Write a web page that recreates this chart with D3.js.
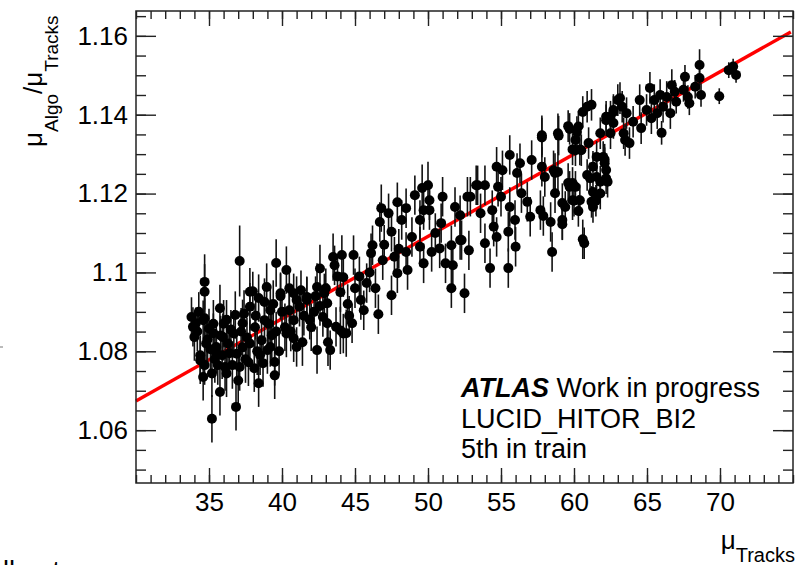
<!DOCTYPE html>
<html>
<head>
<meta charset="utf-8">
<script src="https://cdn.jsdelivr.net/npm/d3@7"></script>
<style>
  html, body { margin: 0; padding: 0; background: #fff; }
  svg { display: block; }
  text { font-family: "Liberation Sans", Arial, Helvetica, sans-serif; fill: #000; }
</style>
</head>
<body>
<svg id="chart" width="799" height="565"></svg>
<script>
// ---- data: [muTracks, ratio, error] ----
const points = [
  [33.8,1.0887,.005],[33.9,1.0862,.005],[34.0,1.0836,.006],[34.1,1.0871,.004],[34.2,1.0850,.005],
  [34.3,1.0900,.005],[34.4,1.0790,.005],[34.4,1.0777,.006],[34.6,1.0879,.005],[34.6,1.0735,.006],
  [34.7,1.0976,.007],[34.7,1.0951,.007],[34.7,1.0765,.005],[34.7,1.0884,.005],[34.8,1.0820,.006],
  [34.9,1.0830,.006],[35.0,1.0858,.005],[35.1,1.0805,.006],[35.2,1.0629,.006],[35.2,1.0744,.006],
  [35.3,1.0846,.005],[35.3,1.0870,.006],[35.4,1.0780,.006],[35.5,1.0795,.005],[35.5,1.0811,.006],
  [35.6,1.0765,.005],[35.75,1.0909,.006],[35.75,1.0697,.006],[35.8,1.0840,.005],[35.9,1.0790,.006],
  [35.95,1.0836,.006],[36.0,1.0870,.006],[36.1,1.0760,.006],[36.2,1.0744,.006],[36.2,1.0880,.005],
  [36.3,1.0820,.005],[36.4,1.0795,.006],[36.5,1.0855,.005],[36.6,1.0765,.006],[36.7,1.0845,.006],
  [36.8,1.0892,.006],[36.85,1.0659,.006],[36.9,1.0794,.006],[37.0,1.0726,.006],[37.1,1.1029,.009],
  [37.1,1.0760,.006],[37.2,1.0850,.006],[37.3,1.0871,.006],[37.3,1.0810,.005],[37.4,1.0895,.006],
  [37.5,1.0780,.006],[37.6,1.0835,.005],[37.7,1.0772,.006],[37.8,1.0913,.006],[37.8,1.0951,.006],
  [37.8,1.0820,.006],[38.0,1.0952,.005],[38.1,1.0757,.006],[38.15,1.0861,.006],[38.2,1.0890,.006],
  [38.3,1.0800,.006],[38.4,1.0935,.006],[38.4,1.0719,.006],[38.5,1.0790,.005],[38.6,1.0828,.006],
  [38.7,1.0770,.006],[38.8,1.0879,.006],[38.8,1.0925,.006],[38.95,1.0963,.006],[39.0,1.0803,.006],
  [39.1,1.0870,.006],[39.2,1.0904,.006],[39.2,1.0811,.005],[39.3,1.0841,.006],[39.4,1.0920,.006],
  [39.5,1.0773,.006],[39.5,1.0739,.006],[39.6,1.1024,.006],[39.6,1.0850,.005],[39.8,1.0800,.006],
  [39.9,1.0947,.005],[39.9,1.0940,.006],[40.0,1.0900,.005],[40.2,1.0861,.006],[40.3,1.1006,.006],
  [40.3,1.0845,.006],[40.5,1.0960,.005],[40.5,1.0904,.005],[40.6,1.0850,.005],[40.8,1.0833,.006],
  [40.8,1.0947,.005],[40.8,1.0879,.005],[41.0,1.0930,.006],[41.0,1.0811,.005],[41.2,1.0913,.005],
  [41.3,1.0955,.005],[41.4,1.0823,.006],[41.5,1.0890,.005],[41.7,1.0930,.006],[41.7,1.0938,.005],
  [41.9,1.0880,.005],[42.0,1.0861,.006],[42.2,1.0900,.005],[42.3,1.0940,.005],[42.4,1.0963,.006],
  [42.4,1.0803,.006],[42.6,1.1010,.006],[42.6,1.0915,.005],[42.8,1.0887,.005],[42.9,1.0947,.005],
  [43.0,1.0960,.005],[43.1,1.0922,.005],[43.1,1.0871,.005],[43.15,1.0823,.006],[43.3,1.0803,.005],
  [43.5,1.1039,.006],[43.6,1.1018,.005],[43.7,1.0862,.005],[43.8,1.0990,.005],[44.0,1.0853,.006],
  [44.0,1.0950,.005],[44.1,1.1044,.005],[44.2,1.0988,.005],[44.2,1.0845,.005],[44.4,1.0846,.006],
  [44.5,1.0920,.005],[44.6,1.0890,.005],[44.8,1.0871,.005],[44.9,1.1044,.005],[45.0,1.0960,.005],
  [45.3,1.0990,.005],[45.4,1.0930,.005],[45.6,1.0904,.005],[45.8,1.0973,.005],[46.0,1.1000,.005],
  [46.1,1.1049,.005],[46.2,1.1069,.005],[46.4,1.0960,.005],[46.6,1.0894,.005],[46.7,1.1128,.005],
  [46.8,1.1163,.006],[46.9,1.1031,.005],[47.0,1.1070,.005],[47.3,1.1150,.005],[47.5,1.1103,.005],
  [47.5,1.0942,.005],[47.7,1.1040,.005],[47.9,1.0998,.005],[47.9,1.1178,.005],[48.0,1.1060,.005],
  [48.2,1.1133,.005],[48.5,1.1163,.005],[48.5,1.1052,.005],[48.6,1.1006,.005],[48.9,1.1090,.005],
  [49.1,1.1196,.005],[49.45,1.1133,.005],[49.45,1.1065,.005],[49.6,1.1214,.006],[49.7,1.1158,.005],
  [49.7,1.1023,.005],[50.0,1.1221,.006],[50.1,1.1183,.005],[50.1,1.1158,.005],[50.25,1.1052,.005],
  [50.5,1.1100,.005],[50.8,1.1061,.005],[50.9,1.1125,.005],[51.0,1.1192,.005],[51.2,1.1023,.005],
  [51.6,1.0960,.005],[51.6,1.1069,.005],[51.7,1.1018,.005],[51.85,1.1166,.005],[52.2,1.1145,.005],
  [52.2,1.1082,.005],[52.3,1.1082,.005],[52.5,1.0947,.005],[52.7,1.1192,.005],[52.8,1.1056,.005],
  [52.9,1.1192,.005],[53.3,1.1221,.005],[53.4,1.1221,.005],[53.6,1.1150,.005],[53.9,1.1221,.005],
  [53.9,1.1074,.005],[54.25,1.1011,.005],[54.4,1.1158,.005],[54.5,1.1116,.005],[54.7,1.1268,.005],
  [54.7,1.1090,.005],[54.8,1.1217,.005],[55.0,1.1192,.005],[55.1,1.1259,.005],[55.5,1.1103,.005],
  [55.5,1.1011,.005],[55.6,1.1298,.005],[55.6,1.1166,.005],[55.96,1.1133,.005],[56.0,1.1065,.005],
  [56.1,1.1252,.005],[56.3,1.1277,.005],[56.4,1.1201,.005],[56.8,1.1179,.005],[57.0,1.1141,.005],
  [57.1,1.1285,.005],[57.7,1.1158,.005],[57.8,1.1348,.005],[57.8,1.1268,.005],[57.8,1.1342,.005],
  [57.9,1.1143,.005],[58.0,1.1242,.005],[58.4,1.1128,.005],[58.5,1.1052,.005],[58.6,1.1259,.005],
  [58.7,1.1201,.005],[58.7,1.1252,.005],[58.9,1.1353,.005],[58.9,1.1255,.005],[58.95,1.1347,.005],
  [59.2,1.1176,.005],[59.2,1.1133,.005],[59.2,1.1122,.004],[59.4,1.1166,.004],[59.6,1.1371,.004],
  [59.6,1.1227,.005],[59.7,1.1364,.004],[59.7,1.1217,.004],[59.9,1.1183,.005],[59.9,1.1227,.004],
  [59.9,1.1312,.004],[60.0,1.1182,.004],[60.1,1.1336,.004],[60.1,1.1310,.004],[60.1,1.1217,.004],
  [60.2,1.1356,.004],[60.3,1.1370,.004],[60.3,1.1156,.004],[60.4,1.1183,.004],[60.4,1.1312,.004],
  [60.5,1.1310,.004],[60.6,1.1084,.005],[60.6,1.1407,.004],[60.7,1.1074,.004],[60.9,1.1420,.004],
  [60.9,1.1247,.004],[61.0,1.1328,.004],[61.1,1.1239,.004],[61.2,1.1425,.004],[61.2,1.1179,.004],
  [61.3,1.1268,.004],[61.3,1.1204,.004],[61.3,1.1166,.004],[61.5,1.1182,.004],[61.55,1.1293,.004],
  [61.55,1.1242,.004],[61.8,1.1353,.004],[61.8,1.1200,.004],[61.8,1.1230,.004],[62.0,1.1293,.004],
  [62.1,1.1286,.004],[62.1,1.1277,.004],[62.2,1.1395,.004],[62.2,1.1239,.004],[62.2,1.1386,.004],
  [62.2,1.1260,.004],[62.3,1.1230,.004],[62.5,1.1353,.004],[62.5,1.1395,.004],[62.7,1.1407,.004],
  [62.7,1.1412,.004],[62.7,1.1379,.004],[63.0,1.1437,.004],[63.15,1.1442,.004],[63.3,1.1420,.004],
  [63.4,1.1353,.004],[63.5,1.1336,.004],[63.6,1.1404,.004],[63.8,1.1328,.004],[64.05,1.1382,.004],
  [64.5,1.1437,.004],[64.6,1.1366,.004],[64.97,1.1412,.004],[65.2,1.1468,.004],[65.3,1.1391,.004],
  [65.5,1.1437,.004],[65.7,1.1404,.004],[65.9,1.1450,.004],[66.0,1.1354,.003],[66.1,1.1420,.004],
  [66.35,1.1445,.004],[66.6,1.1404,.004],[66.7,1.1475,.004],[66.9,1.1458,.003],[67.0,1.1433,.003],
  [67.5,1.1463,.003],[67.6,1.1496,.003],[67.8,1.1445,.003],[67.9,1.1429,.003],[68.3,1.1471,.003],
  [68.6,1.1526,.004],[68.6,1.1493,.003],[68.7,1.1450,.003],[69.95,1.1447,.002],[70.6,1.1513,.002],
  [70.9,1.1522,.002],[71.1,1.1501,.002]
];

// linear fit end points
const fitX = [30, 74.85];
const fitY = [1.0674, 1.1610];

// axis ticks
const xMajorTicks = [35, 40, 45, 50, 55, 60, 65, 70];
const yMajorTicks = [1.06, 1.08, 1.10, 1.12, 1.14, 1.16];
const yTickLabels = ["1.06", "1.08", "1.1", "1.12", "1.14", "1.16"];
const xDomain = [30, 75];
const yDomain = [1.0466, 1.1663];

const annotLines = ["LUCID_HITOR_BI2", "5th in train"];

// ---- layout ----
const L = 136, R = 793, T = 11, B = 483;
const svg = d3.select("#chart");
const x = d3.scaleLinear().domain(xDomain).range([L, R]);
const y = d3.scaleLinear().domain(yDomain).range([B, T]);

const xMinor = d3.range(30, 75.001, 1);
const yMinor = d3.range(1.05, 1.1663, 0.005).map(v => +v.toFixed(3));

// fit line (under points)
svg.append("line")
  .attr("x1", x(fitX[0])).attr("y1", y(fitY[0]))
  .attr("x2", x(fitX[1])).attr("y2", y(fitY[1]))
  .attr("stroke", "#ff0000").attr("stroke-width", 3.4);

// error bars
svg.append("g").selectAll("line").data(points).join("line")
  .attr("x1", d => x(d[0])).attr("x2", d => x(d[0]))
  .attr("y1", d => y(d[1] - d[2])).attr("y2", d => y(d[1] + d[2]))
  .attr("stroke", "#111").attr("stroke-width", 1.6);

// markers
svg.append("g").selectAll("circle").data(points).join("circle")
  .attr("cx", d => x(d[0])).attr("cy", d => y(d[1]))
  .attr("r", 5).attr("fill", "#000");

// axes
function styleAxis(g) {
  g.selectAll(".domain").remove();
  g.selectAll(".tick line").attr("stroke", "#222").attr("stroke-width", 1.4);
  g.selectAll(".tick text").style("font-size", "26px")
    .style("font-family", '"Liberation Sans", Arial, sans-serif').attr("fill", "#000");
}
const fmtY = d => yTickLabels[yMajorTicks.findIndex(v => Math.abs(v - d) < 1e-9)];

svg.append("g").attr("transform", `translate(0,${B})`)
  .call(d3.axisBottom(x).tickValues(xMajorTicks).tickSizeInner(-15).tickSizeOuter(0).tickPadding(10).tickFormat(d3.format("d")))
  .call(styleAxis);
svg.append("g").attr("transform", `translate(0,${B})`)
  .call(d3.axisBottom(x).tickValues(xMinor).tickSizeInner(-8).tickSizeOuter(0).tickFormat(""))
  .call(styleAxis);
svg.append("g").attr("transform", `translate(0,${T})`)
  .call(d3.axisTop(x).tickValues(xMajorTicks).tickSizeInner(-15).tickSizeOuter(0).tickFormat(""))
  .call(styleAxis);
svg.append("g").attr("transform", `translate(0,${T})`)
  .call(d3.axisTop(x).tickValues(xMinor).tickSizeInner(-8).tickSizeOuter(0).tickFormat(""))
  .call(styleAxis);

svg.append("g").attr("transform", `translate(${L},0)`)
  .call(d3.axisLeft(y).tickValues(yMajorTicks).tickSizeInner(-20).tickSizeOuter(0).tickPadding(8).tickFormat(fmtY))
  .call(styleAxis);
svg.append("g").attr("transform", `translate(${L},0)`)
  .call(d3.axisLeft(y).tickValues(yMinor).tickSizeInner(-10).tickSizeOuter(0).tickFormat(""))
  .call(styleAxis);
svg.append("g").attr("transform", `translate(${R},0)`)
  .call(d3.axisRight(y).tickValues(yMajorTicks).tickSizeInner(-20).tickSizeOuter(0).tickFormat(""))
  .call(styleAxis);
svg.append("g").attr("transform", `translate(${R},0)`)
  .call(d3.axisRight(y).tickValues(yMinor).tickSizeInner(-10).tickSizeOuter(0).tickFormat(""))
  .call(styleAxis);

// frame
svg.append("rect").attr("x", L).attr("y", T).attr("width", R - L).attr("height", B - T)
  .attr("fill", "none").attr("stroke", "#222").attr("stroke-width", 1.5);

// y title
const yt = svg.append("text")
  .attr("transform", "translate(42,147) rotate(-90)")
  .style("font-size", "26px");
yt.append("tspan").text("μ");
yt.append("tspan").attr("dy", 16).style("font-size", "19px").text("Algo");
yt.append("tspan").attr("dy", -16).text("/μ");
yt.append("tspan").attr("dy", 16).style("font-size", "19px").text("Tracks");

// x title
const xt = svg.append("text")
  .attr("x", 795).attr("y", 549).attr("text-anchor", "end")
  .style("font-size", "26px");
xt.append("tspan").text("μ");
xt.append("tspan").attr("dy", 13).style("font-size", "20px").text("Tracks");

// annotation
const a1 = svg.append("text").attr("x", 461).attr("y", 397).style("font-size", "27px");
a1.append("tspan").style("font-weight", "bold").style("font-style", "italic").text("ATLAS");
a1.append("tspan").text(" Work in progress");
svg.selectAll(".annot").data(annotLines).join("text")
  .attr("class", "annot")
  .attr("x", 461).attr("y", (d, i) => 428 + i * 30)
  .style("font-size", "27px").text(d => d);

// stray marks at canvas edges (from the source image)
svg.append("line").attr("x1", 0).attr("x2", 3).attr("y1", 347).attr("y2", 347)
  .attr("stroke", "#777").attr("stroke-width", 1);
svg.append("text").attr("x", 3).attr("y", 580).style("font-size", "27px").attr("fill", "#333").text("lhosts");
</script>
</body>
</html>
